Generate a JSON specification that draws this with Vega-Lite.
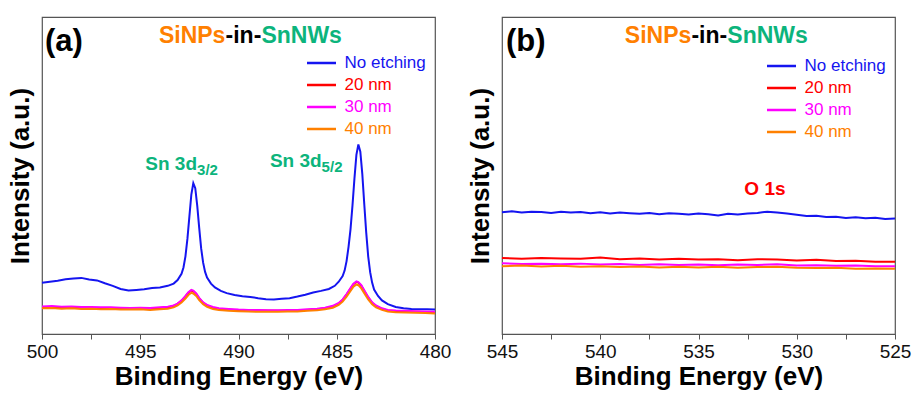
{
  "$schema": "https://vega.github.io/schema/vega-lite/v6.json",
  "padding": {"left": 6, "top": 16, "right": 6, "bottom": 0},
  "spacing": 14,
  "config": {
    "font": "Liberation Sans",
    "view": {"stroke": "#555555", "strokeWidth": 1.2},
    "axis": {"grid": false, "domain": false, "labelFont": "Liberation Sans", "titleFont": "Liberation Sans", "tickColor": "#555555"}
  },
  "datasets": {
    "a": [
      {"s":"No etching","E":500.0,"I":16.2},{"s":"No etching","E":499.6,"I":16.5},{"s":"No etching","E":499.2,"I":16.8},{"s":"No etching","E":498.8,"I":17.3},{"s":"No etching","E":498.4,"I":17.5},{"s":"No etching","E":498.0,"I":17.7},{"s":"No etching","E":497.6,"I":17.2},{"s":"No etching","E":497.2,"I":16.9},{"s":"No etching","E":496.8,"I":16.0},{"s":"No etching","E":496.4,"I":15.2},{"s":"No etching","E":496.0,"I":14.2},{"s":"No etching","E":495.6,"I":13.7},{"s":"No etching","E":495.2,"I":13.9},{"s":"No etching","E":494.8,"I":14.1},{"s":"No etching","E":494.4,"I":14.5},{"s":"No etching","E":494.0,"I":14.7},{"s":"No etching","E":493.6,"I":15.2},{"s":"No etching","E":493.3,"I":15.9},{"s":"No etching","E":493.1,"I":17.0},{"s":"No etching","E":492.9,"I":19.0},{"s":"No etching","E":492.8,"I":21.0},{"s":"No etching","E":492.7,"I":24.5},{"s":"No etching","E":492.6,"I":30.0},{"s":"No etching","E":492.5,"I":37.0},{"s":"No etching","E":492.4,"I":44.0},{"s":"No etching","E":492.3,"I":47.6},{"s":"No etching","E":492.2,"I":46.0},{"s":"No etching","E":492.1,"I":40.5},{"s":"No etching","E":492.0,"I":33.5},{"s":"No etching","E":491.9,"I":27.0},{"s":"No etching","E":491.8,"I":22.5},{"s":"No etching","E":491.7,"I":19.6},{"s":"No etching","E":491.6,"I":17.8},{"s":"No etching","E":491.4,"I":15.9},{"s":"No etching","E":491.2,"I":14.7},{"s":"No etching","E":490.9,"I":13.6},{"s":"No etching","E":490.6,"I":12.9},{"s":"No etching","E":490.2,"I":12.3},{"s":"No etching","E":489.8,"I":11.9},{"s":"No etching","E":489.4,"I":11.7},{"s":"No etching","E":489.0,"I":11.3},{"s":"No etching","E":488.6,"I":11.0},{"s":"No etching","E":488.2,"I":10.9},{"s":"No etching","E":487.8,"I":11.1},{"s":"No etching","E":487.4,"I":11.3},{"s":"No etching","E":487.0,"I":11.8},{"s":"No etching","E":486.6,"I":12.4},{"s":"No etching","E":486.2,"I":13.1},{"s":"No etching","E":485.8,"I":13.6},{"s":"No etching","E":485.4,"I":14.2},{"s":"No etching","E":485.1,"I":15.2},{"s":"No etching","E":484.9,"I":16.5},{"s":"No etching","E":484.7,"I":18.3},{"s":"No etching","E":484.6,"I":20.0},{"s":"No etching","E":484.5,"I":23.0},{"s":"No etching","E":484.4,"I":27.5},{"s":"No etching","E":484.3,"I":33.0},{"s":"No etching","E":484.2,"I":40.5},{"s":"No etching","E":484.1,"I":49.0},{"s":"No etching","E":484.0,"I":56.5},{"s":"No etching","E":483.9,"I":59.8},{"s":"No etching","E":483.8,"I":57.5},{"s":"No etching","E":483.7,"I":50.5},{"s":"No etching","E":483.6,"I":41.0},{"s":"No etching","E":483.5,"I":32.0},{"s":"No etching","E":483.4,"I":24.5},{"s":"No etching","E":483.3,"I":19.5},{"s":"No etching","E":483.2,"I":16.2},{"s":"No etching","E":483.1,"I":14.0},{"s":"No etching","E":482.9,"I":12.0},{"s":"No etching","E":482.7,"I":10.6},{"s":"No etching","E":482.4,"I":9.4},{"s":"No etching","E":482.0,"I":8.5},{"s":"No etching","E":481.6,"I":8.1},{"s":"No etching","E":481.2,"I":7.9},{"s":"No etching","E":480.8,"I":7.8},{"s":"No etching","E":480.4,"I":7.8},{"s":"No etching","E":480.0,"I":7.7},
      {"s":"20 nm","E":500,"I":8.5},{"s":"20 nm","E":499,"I":8.4},{"s":"20 nm","E":498,"I":8.3},{"s":"20 nm","E":497,"I":8.2},{"s":"20 nm","E":496,"I":8.1},{"s":"20 nm","E":495,"I":8.1},{"s":"20 nm","E":494,"I":8.2},{"s":"20 nm","E":493.5,"I":8.5},{"s":"20 nm","E":493.2,"I":9.1},{"s":"20 nm","E":492.9,"I":10.4},{"s":"20 nm","E":492.7,"I":11.8},{"s":"20 nm","E":492.55,"I":13.0},{"s":"20 nm","E":492.4,"I":13.7},{"s":"20 nm","E":492.3,"I":13.5},{"s":"20 nm","E":492.15,"I":12.6},{"s":"20 nm","E":492.0,"I":11.2},{"s":"20 nm","E":491.8,"I":9.8},{"s":"20 nm","E":491.6,"I":9.0},{"s":"20 nm","E":491.3,"I":8.3},{"s":"20 nm","E":491,"I":7.9},{"s":"20 nm","E":490,"I":7.5},{"s":"20 nm","E":489,"I":7.4},{"s":"20 nm","E":488,"I":7.3},{"s":"20 nm","E":487,"I":7.4},{"s":"20 nm","E":486.5,"I":7.6},{"s":"20 nm","E":486,"I":7.8},{"s":"20 nm","E":485.6,"I":8.1},{"s":"20 nm","E":485.2,"I":8.7},{"s":"20 nm","E":484.9,"I":9.6},{"s":"20 nm","E":484.7,"I":10.7},{"s":"20 nm","E":484.5,"I":12.4},{"s":"20 nm","E":484.3,"I":14.3},{"s":"20 nm","E":484.15,"I":15.7},{"s":"20 nm","E":484.0,"I":16.4},{"s":"20 nm","E":483.9,"I":16.2},{"s":"20 nm","E":483.75,"I":15.2},{"s":"20 nm","E":483.6,"I":13.6},{"s":"20 nm","E":483.4,"I":11.5},{"s":"20 nm","E":483.2,"I":9.8},{"s":"20 nm","E":483.0,"I":8.8},{"s":"20 nm","E":482.7,"I":7.9},{"s":"20 nm","E":482.4,"I":7.4},{"s":"20 nm","E":482,"I":7.2},{"s":"20 nm","E":481,"I":7.0},{"s":"20 nm","E":480,"I":6.8},
      {"s":"30 nm","E":500,"I":8.7},{"s":"30 nm","E":499.5,"I":8.8},{"s":"30 nm","E":499,"I":8.6},{"s":"30 nm","E":498.5,"I":8.7},{"s":"30 nm","E":498,"I":8.5},{"s":"30 nm","E":497.5,"I":8.5},{"s":"30 nm","E":497,"I":8.4},{"s":"30 nm","E":496.5,"I":8.4},{"s":"30 nm","E":496,"I":8.3},{"s":"30 nm","E":495.5,"I":8.2},{"s":"30 nm","E":495,"I":8.3},{"s":"30 nm","E":494.5,"I":8.2},{"s":"30 nm","E":494,"I":8.4},{"s":"30 nm","E":493.6,"I":8.6},{"s":"30 nm","E":493.3,"I":9.0},{"s":"30 nm","E":493.1,"I":9.6},{"s":"30 nm","E":492.9,"I":10.6},{"s":"30 nm","E":492.7,"I":12.0},{"s":"30 nm","E":492.55,"I":13.2},{"s":"30 nm","E":492.4,"I":13.9},{"s":"30 nm","E":492.3,"I":13.7},{"s":"30 nm","E":492.15,"I":12.8},{"s":"30 nm","E":492.0,"I":11.4},{"s":"30 nm","E":491.8,"I":10.0},{"s":"30 nm","E":491.6,"I":9.2},{"s":"30 nm","E":491.3,"I":8.5},{"s":"30 nm","E":491,"I":8.1},{"s":"30 nm","E":490.5,"I":7.9},{"s":"30 nm","E":490,"I":7.7},{"s":"30 nm","E":489.5,"I":7.6},{"s":"30 nm","E":489,"I":7.6},{"s":"30 nm","E":488.5,"I":7.5},{"s":"30 nm","E":488,"I":7.5},{"s":"30 nm","E":487.5,"I":7.6},{"s":"30 nm","E":487,"I":7.6},{"s":"30 nm","E":486.5,"I":7.8},{"s":"30 nm","E":486,"I":8.0},{"s":"30 nm","E":485.6,"I":8.3},{"s":"30 nm","E":485.2,"I":8.9},{"s":"30 nm","E":484.9,"I":9.8},{"s":"30 nm","E":484.7,"I":10.9},{"s":"30 nm","E":484.5,"I":12.6},{"s":"30 nm","E":484.3,"I":14.5},{"s":"30 nm","E":484.15,"I":15.9},{"s":"30 nm","E":484.0,"I":16.6},{"s":"30 nm","E":483.9,"I":16.4},{"s":"30 nm","E":483.75,"I":15.4},{"s":"30 nm","E":483.6,"I":13.8},{"s":"30 nm","E":483.4,"I":11.7},{"s":"30 nm","E":483.2,"I":10.0},{"s":"30 nm","E":483.0,"I":9.0},{"s":"30 nm","E":482.7,"I":8.1},{"s":"30 nm","E":482.4,"I":7.6},{"s":"30 nm","E":482,"I":7.4},{"s":"30 nm","E":481.5,"I":7.3},{"s":"30 nm","E":481,"I":7.2},{"s":"30 nm","E":480.5,"I":7.1},{"s":"30 nm","E":480,"I":7.0},
      {"s":"40 nm","E":500,"I":8.1},{"s":"40 nm","E":499.5,"I":8.2},{"s":"40 nm","E":499,"I":8.0},{"s":"40 nm","E":498.5,"I":8.1},{"s":"40 nm","E":498,"I":7.9},{"s":"40 nm","E":497.5,"I":8.0},{"s":"40 nm","E":497,"I":7.8},{"s":"40 nm","E":496.5,"I":7.9},{"s":"40 nm","E":496,"I":7.7},{"s":"40 nm","E":495.5,"I":7.7},{"s":"40 nm","E":495,"I":7.8},{"s":"40 nm","E":494.5,"I":7.6},{"s":"40 nm","E":494,"I":7.8},{"s":"40 nm","E":493.6,"I":8.0},{"s":"40 nm","E":493.3,"I":8.4},{"s":"40 nm","E":493.1,"I":9.0},{"s":"40 nm","E":492.9,"I":9.9},{"s":"40 nm","E":492.7,"I":11.2},{"s":"40 nm","E":492.55,"I":12.3},{"s":"40 nm","E":492.4,"I":13.0},{"s":"40 nm","E":492.3,"I":12.8},{"s":"40 nm","E":492.15,"I":12.0},{"s":"40 nm","E":492.0,"I":10.7},{"s":"40 nm","E":491.8,"I":9.4},{"s":"40 nm","E":491.6,"I":8.6},{"s":"40 nm","E":491.3,"I":7.9},{"s":"40 nm","E":491,"I":7.6},{"s":"40 nm","E":490.5,"I":7.3},{"s":"40 nm","E":490,"I":7.2},{"s":"40 nm","E":489.5,"I":7.1},{"s":"40 nm","E":489,"I":7.0},{"s":"40 nm","E":488.5,"I":7.0},{"s":"40 nm","E":488,"I":7.0},{"s":"40 nm","E":487.5,"I":7.1},{"s":"40 nm","E":487,"I":7.1},{"s":"40 nm","E":486.5,"I":7.3},{"s":"40 nm","E":486,"I":7.5},{"s":"40 nm","E":485.6,"I":7.8},{"s":"40 nm","E":485.2,"I":8.3},{"s":"40 nm","E":484.9,"I":9.2},{"s":"40 nm","E":484.7,"I":10.2},{"s":"40 nm","E":484.5,"I":11.8},{"s":"40 nm","E":484.3,"I":13.6},{"s":"40 nm","E":484.15,"I":14.9},{"s":"40 nm","E":484.0,"I":15.6},{"s":"40 nm","E":483.9,"I":15.4},{"s":"40 nm","E":483.75,"I":14.4},{"s":"40 nm","E":483.6,"I":12.9},{"s":"40 nm","E":483.4,"I":10.9},{"s":"40 nm","E":483.2,"I":9.4},{"s":"40 nm","E":483.0,"I":8.4},{"s":"40 nm","E":482.7,"I":7.6},{"s":"40 nm","E":482.4,"I":7.1},{"s":"40 nm","E":482,"I":6.9},{"s":"40 nm","E":481.5,"I":6.8},{"s":"40 nm","E":481,"I":6.7},{"s":"40 nm","E":480.5,"I":6.6},{"s":"40 nm","E":480,"I":6.5}
    ],
    "b": [
      {"s":"No etching","E":545,"I":38.4},{"s":"No etching","E":544.5,"I":38.7},{"s":"No etching","E":544,"I":38.3},{"s":"No etching","E":543.5,"I":38.6},{"s":"No etching","E":543,"I":38.5},{"s":"No etching","E":542.5,"I":38.2},{"s":"No etching","E":542,"I":38.6},{"s":"No etching","E":541.5,"I":38.3},{"s":"No etching","E":541,"I":38.5},{"s":"No etching","E":540.5,"I":38.1},{"s":"No etching","E":540,"I":38.4},{"s":"No etching","E":539.5,"I":38.0},{"s":"No etching","E":539,"I":38.3},{"s":"No etching","E":538.5,"I":38.1},{"s":"No etching","E":538,"I":37.9},{"s":"No etching","E":537.5,"I":38.2},{"s":"No etching","E":537,"I":37.8},{"s":"No etching","E":536.5,"I":38.1},{"s":"No etching","E":536,"I":37.9},{"s":"No etching","E":535.5,"I":37.7},{"s":"No etching","E":535,"I":38.0},{"s":"No etching","E":534.5,"I":37.8},{"s":"No etching","E":534,"I":37.4},{"s":"No etching","E":533.5,"I":37.9},{"s":"No etching","E":533,"I":37.7},{"s":"No etching","E":532.5,"I":38.0},{"s":"No etching","E":532,"I":38.2},{"s":"No etching","E":531.5,"I":38.6},{"s":"No etching","E":531,"I":38.3},{"s":"No etching","E":530.5,"I":38.0},{"s":"No etching","E":530,"I":37.6},{"s":"No etching","E":529.5,"I":37.2},{"s":"No etching","E":529,"I":37.3},{"s":"No etching","E":528.5,"I":36.9},{"s":"No etching","E":528,"I":37.0},{"s":"No etching","E":527.5,"I":36.6},{"s":"No etching","E":527,"I":36.8},{"s":"No etching","E":526.5,"I":36.5},{"s":"No etching","E":526,"I":36.7},{"s":"No etching","E":525.5,"I":36.3},{"s":"No etching","E":525,"I":36.4},
      {"s":"20 nm","E":545,"I":24.0},{"s":"20 nm","E":544,"I":23.7},{"s":"20 nm","E":543,"I":24.0},{"s":"20 nm","E":542,"I":23.8},{"s":"20 nm","E":541,"I":23.7},{"s":"20 nm","E":540,"I":24.1},{"s":"20 nm","E":539,"I":23.6},{"s":"20 nm","E":538,"I":23.8},{"s":"20 nm","E":537,"I":23.5},{"s":"20 nm","E":536,"I":23.7},{"s":"20 nm","E":535,"I":23.5},{"s":"20 nm","E":534,"I":23.6},{"s":"20 nm","E":533,"I":23.3},{"s":"20 nm","E":532,"I":23.6},{"s":"20 nm","E":531,"I":23.5},{"s":"20 nm","E":530,"I":23.2},{"s":"20 nm","E":529,"I":23.4},{"s":"20 nm","E":528,"I":23.0},{"s":"20 nm","E":527,"I":23.1},{"s":"20 nm","E":526,"I":22.8},{"s":"20 nm","E":525,"I":22.8},
      {"s":"30 nm","E":545,"I":22.3},{"s":"30 nm","E":544,"I":22.1},{"s":"30 nm","E":543,"I":22.2},{"s":"30 nm","E":542,"I":22.0},{"s":"30 nm","E":541,"I":22.2},{"s":"30 nm","E":540,"I":21.9},{"s":"30 nm","E":539,"I":22.1},{"s":"30 nm","E":538,"I":21.8},{"s":"30 nm","E":537,"I":22.0},{"s":"30 nm","E":536,"I":21.8},{"s":"30 nm","E":535,"I":21.9},{"s":"30 nm","E":534,"I":21.7},{"s":"30 nm","E":533,"I":21.9},{"s":"30 nm","E":532,"I":21.8},{"s":"30 nm","E":531,"I":22.0},{"s":"30 nm","E":530,"I":21.6},{"s":"30 nm","E":529,"I":21.7},{"s":"30 nm","E":528,"I":21.5},{"s":"30 nm","E":527,"I":21.6},{"s":"30 nm","E":526,"I":21.4},{"s":"30 nm","E":525,"I":21.4},
      {"s":"40 nm","E":545,"I":21.4},{"s":"40 nm","E":544,"I":21.6},{"s":"40 nm","E":543,"I":21.3},{"s":"40 nm","E":542,"I":21.5},{"s":"40 nm","E":541,"I":21.2},{"s":"40 nm","E":540,"I":21.4},{"s":"40 nm","E":539,"I":21.1},{"s":"40 nm","E":538,"I":21.3},{"s":"40 nm","E":537,"I":21.0},{"s":"40 nm","E":536,"I":21.2},{"s":"40 nm","E":535,"I":21.0},{"s":"40 nm","E":534,"I":21.2},{"s":"40 nm","E":533,"I":20.9},{"s":"40 nm","E":532,"I":21.1},{"s":"40 nm","E":531,"I":21.2},{"s":"40 nm","E":530,"I":20.9},{"s":"40 nm","E":529,"I":20.8},{"s":"40 nm","E":528,"I":20.9},{"s":"40 nm","E":527,"I":20.6},{"s":"40 nm","E":526,"I":20.7},{"s":"40 nm","E":525,"I":20.6}
    ]
  },
  "resolve": {"scale": {"color": "independent", "x": "independent", "y": "independent"}, "legend": {"color": "independent"}},
  "hconcat": [
    {
      "width": 393,
      "height": 317,
      "layer": [
        {
          "data": {"name": "a"},
          "mark": {"type": "line", "strokeWidth": 2},
          "encoding": {
            "x": {"field": "E", "type": "quantitative", "scale": {"domain": [500, 480], "nice": false, "zero": false},
              "axis": {"values": [500, 497.5, 495, 492.5, 490, 487.5, 485, 482.5, 480], "labelExpr": "datum.value % 5 === 0 ? datum.label : ''", "labelFontSize": 19, "labelColor": "#111111", "labelPadding": 3, "labelFlush": false, "tickSize": 5, "title": "Binding Energy (eV)", "titleFontSize": 26, "titleFontWeight": "bold", "titleColor": "#000000", "titlePadding": 2,
                "encode": {"ticks": {"update": {"y2": {"signal": "datum.value % 5 === 0 ? 5 : 3"}}}}}},
            "y": {"field": "I", "type": "quantitative", "scale": {"domain": [0, 100], "nice": false},
              "axis": {"labels": false, "ticks": false, "title": "Intensity (a.u.)", "titleFontSize": 26, "titleFontWeight": "bold", "titleColor": "#000000", "titlePadding": 9}},
            "color": {"field": "s", "type": "nominal", "sort": ["No etching", "20 nm", "30 nm", "40 nm"],
              "scale": {"domain": ["No etching", "20 nm", "30 nm", "40 nm"], "range": ["#1515f0", "#ff0000", "#ff00ff", "#ff8000"]},
              "legend": {"title": null, "orient": "none", "legendX": 265, "legendY": 35, "symbolType": "M-1.75,0H1.5", "symbolSize": 484, "symbolStrokeWidth": 2.5, "clipHeight": 22, "labelFontSize": 17, "labelOffset": 12.5, "rowPadding": 0, "labelFont": "Liberation Sans",
                "encode": {"labels": {"update": {"fill": {"signal": "datum.value === 'No etching' ? '#1515f0' : datum.value === '20 nm' ? '#ff0000' : datum.value === '30 nm' ? '#ff00ff' : '#ff8000'"}}}}}}
          }
        },
        {
          "data": {"values": [{"t": "(a)", "E": 499.85, "I": 92.1}]},
          "mark": {"type": "text", "align": "left", "baseline": "middle", "fontSize": 31, "fontWeight": "bold", "color": "#000000"},
          "encoding": {"x": {"field": "E", "type": "quantitative"}, "y": {"field": "I", "type": "quantitative"}, "text": {"field": "t"}}
        },
        {
          "data": {"values": [{"a": "SiNPs", "b": "-in-", "c": "SnNWs", "E": 489.75, "I": 94.0}]},
          "layer": [
            {"mark": {"type": "text", "align": "right", "baseline": "middle", "dx": -18, "fontSize": 23, "fontWeight": "bold", "color": "#ff8000"},
             "encoding": {"x": {"field": "E", "type": "quantitative"}, "y": {"field": "I", "type": "quantitative"}, "text": {"field": "a"}}},
            {"mark": {"type": "text", "align": "center", "baseline": "middle", "fontSize": 23, "fontWeight": "bold", "color": "#000000"},
             "encoding": {"x": {"field": "E", "type": "quantitative"}, "y": {"field": "I", "type": "quantitative"}, "text": {"field": "b"}}},
            {"mark": {"type": "text", "align": "left", "baseline": "middle", "dx": 18, "fontSize": 23, "fontWeight": "bold", "color": "#0cb47c"},
             "encoding": {"x": {"field": "E", "type": "quantitative"}, "y": {"field": "I", "type": "quantitative"}, "text": {"field": "c"}}}
          ]
        },
        {
          "data": {"values": [{"main": "Sn 3d", "sub": "3/2", "E": 492.11, "I": 51.7}, {"main": "Sn 3d", "sub": "5/2", "E": 485.77, "I": 52.8}]},
          "layer": [
            {"mark": {"type": "text", "align": "right", "baseline": "alphabetic", "fontSize": 19, "fontWeight": "bold", "color": "#0cb47c"},
             "encoding": {"x": {"field": "E", "type": "quantitative"}, "y": {"field": "I", "type": "quantitative"}, "text": {"field": "main"}}},
            {"mark": {"type": "text", "align": "left", "baseline": "alphabetic", "dy": 5, "fontSize": 15, "fontWeight": "bold", "color": "#0cb47c"},
             "encoding": {"x": {"field": "E", "type": "quantitative"}, "y": {"field": "I", "type": "quantitative"}, "text": {"field": "sub"}}}
          ]
        }
      ]
    },
    {
      "width": 393,
      "height": 317,
      "layer": [
        {
          "data": {"name": "b"},
          "mark": {"type": "line", "strokeWidth": 2},
          "encoding": {
            "x": {"field": "E", "type": "quantitative", "scale": {"domain": [545, 525], "nice": false, "zero": false},
              "axis": {"values": [545, 542.5, 540, 537.5, 535, 532.5, 530, 527.5, 525], "labelExpr": "datum.value % 5 === 0 ? datum.label : ''", "labelFontSize": 19, "labelColor": "#111111", "labelPadding": 3, "labelFlush": false, "tickSize": 5, "title": "Binding Energy (eV)", "titleFontSize": 26, "titleFontWeight": "bold", "titleColor": "#000000", "titlePadding": 2,
                "encode": {"ticks": {"update": {"y2": {"signal": "datum.value % 5 === 0 ? 5 : 3"}}}}}},
            "y": {"field": "I", "type": "quantitative", "scale": {"domain": [0, 100], "nice": false},
              "axis": {"labels": false, "ticks": false, "title": "Intensity (a.u.)", "titleFontSize": 26, "titleFontWeight": "bold", "titleColor": "#000000", "titlePadding": 9}},
            "color": {"field": "s", "type": "nominal", "sort": ["No etching", "20 nm", "30 nm", "40 nm"],
              "scale": {"domain": ["No etching", "20 nm", "30 nm", "40 nm"], "range": ["#1515f0", "#ff0000", "#ff00ff", "#ff8000"]},
              "legend": {"title": null, "orient": "none", "legendX": 265, "legendY": 38, "symbolType": "M-1.75,0H1.5", "symbolSize": 484, "symbolStrokeWidth": 2.5, "clipHeight": 22, "labelFontSize": 17, "labelOffset": 12.5, "rowPadding": 0, "labelFont": "Liberation Sans",
                "encode": {"labels": {"update": {"fill": {"signal": "datum.value === 'No etching' ? '#1515f0' : datum.value === '20 nm' ? '#ff0000' : datum.value === '30 nm' ? '#ff00ff' : '#ff8000'"}}}}}}
          }
        },
        {
          "data": {"values": [{"t": "(b)", "E": 544.8, "I": 92.1}]},
          "mark": {"type": "text", "align": "left", "baseline": "middle", "fontSize": 31, "fontWeight": "bold", "color": "#000000"},
          "encoding": {"x": {"field": "E", "type": "quantitative"}, "y": {"field": "I", "type": "quantitative"}, "text": {"field": "t"}}
        },
        {
          "data": {"values": [{"a": "SiNPs", "b": "-in-", "c": "SnNWs", "E": 534.45, "I": 94.0}]},
          "layer": [
            {"mark": {"type": "text", "align": "right", "baseline": "middle", "dx": -18, "fontSize": 23, "fontWeight": "bold", "color": "#ff8000"},
             "encoding": {"x": {"field": "E", "type": "quantitative"}, "y": {"field": "I", "type": "quantitative"}, "text": {"field": "a"}}},
            {"mark": {"type": "text", "align": "center", "baseline": "middle", "fontSize": 23, "fontWeight": "bold", "color": "#000000"},
             "encoding": {"x": {"field": "E", "type": "quantitative"}, "y": {"field": "I", "type": "quantitative"}, "text": {"field": "b"}}},
            {"mark": {"type": "text", "align": "left", "baseline": "middle", "dx": 18, "fontSize": 23, "fontWeight": "bold", "color": "#0cb47c"},
             "encoding": {"x": {"field": "E", "type": "quantitative"}, "y": {"field": "I", "type": "quantitative"}, "text": {"field": "c"}}}
          ]
        },
        {
          "data": {"values": [{"t": "O 1s", "E": 531.62, "I": 45.7}]},
          "mark": {"type": "text", "align": "center", "baseline": "middle", "fontSize": 19, "fontWeight": "bold", "color": "#ff0000"},
          "encoding": {"x": {"field": "E", "type": "quantitative"}, "y": {"field": "I", "type": "quantitative"}, "text": {"field": "t"}}
        }
      ]
    }
  ]
}
